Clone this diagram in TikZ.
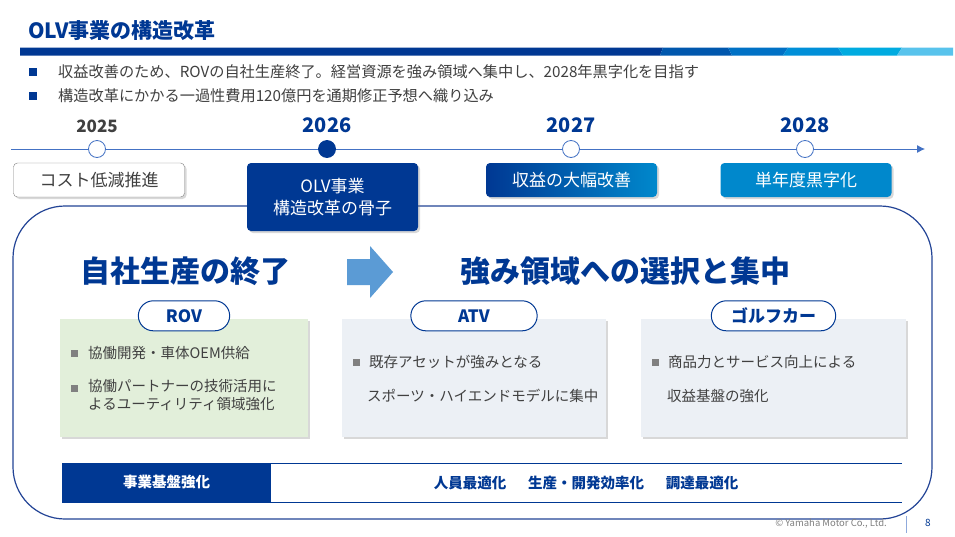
\documentclass[tikz,border=0pt]{standalone}
\usepackage{fontspec}
\setmainfont{Noto Sans CJK JP}
\usepackage{xcolor}
\usepackage{tikz}
\usetikzlibrary{arrows.meta,positioning,shapes.misc,shadows}
\definecolor{olvnavy}{RGB}{0,56,147}
\definecolor{tlblue}{RGB}{68,114,196}
\definecolor{framecol}{RGB}{35,68,150}
\definecolor{skyblue}{RGB}{0,136,204}
\definecolor{txtgray}{RGB}{64,64,64}
\definecolor{bulgray}{RGB}{128,128,128}
\definecolor{rovfill}{RGB}{226,239,218}
\definecolor{panfill}{RGB}{236,240,245}
\definecolor{arrowblue}{RGB}{91,155,213}
\definecolor{barA}{RGB}{0,87,173}
\definecolor{barB}{RGB}{0,113,197}
\definecolor{barC}{RGB}{0,143,216}
\definecolor{barD}{RGB}{0,171,224}
\definecolor{barE}{RGB}{88,195,236}
\newcommand{\fs}[2][18]{\fontsize{#2}{#1}\selectfont}

\begin{document}
\begin{tikzpicture}[x=1pt, y=-1pt, >=Latex,
  yearlbl/.style={font=\fs{20}\bfseries, text=olvnavy, inner sep=0pt},
  dot/.style={circle, draw=tlblue, fill=white, line width=0.8pt, minimum size=17pt, inner sep=0pt},
  phase/.style={rounded corners=4pt, minimum width=171pt, minimum height=34pt, font=\fs{17},
                text=white, align=center,
                drop shadow={shadow xshift=2pt, shadow yshift=-2pt, opacity=.3}},
  panel/.style={minimum width=#1, minimum height=118pt, inner sep=0pt,
                drop shadow={shadow xshift=2pt, shadow yshift=-2pt, opacity=.3}},
  pill/.style={rounded rectangle, draw=olvnavy, line width=1pt, fill=white, minimum width=#1,
               minimum height=30pt, font=\fs{17}\bfseries, text=olvnavy},
  ptxt/.style={anchor=west, font=\fs{14.5}, text=txtgray, inner sep=0pt, align=left},
  sq/.style={fill=bulgray, minimum size=7pt, inner sep=0pt},
  headline/.style={font={\fs[36]{30}\bfseries}, text=olvnavy}]
\useasboundingbox (0,0) rectangle (955,536);
\fill[white] (0,0) rectangle (955,536);
% title and header bar
\node[anchor=west, font=\fs{21}\bfseries, text=olvnavy, inner sep=0pt] (title) at (28,31) {OLV事業の構造改革};
\fill[olvnavy] (20,47.5) -- (663,47.5) -- (660,55.5) -- (20,55.5) -- cycle;
\foreach \a/\b/\c/\d/\col in {663/728/732/660/barA, 728/788/783/732/barB, 788/838/843/783/barC,
                              838/902/897/843/barD, 902/953/953/897/barE}
  \fill[\col] (\a,47.5) -- (\b,47.5) -- (\c,55.5) -- (\d,55.5) -- cycle;
\node[fill=olvnavy, minimum width=8pt, minimum height=8pt, inner sep=0pt] (b1) at (33,72) {};
\node[fill=olvnavy, minimum width=8pt, minimum height=8pt, inner sep=0pt] (b2) at (33,96) {};
\node[ptxt, font=\fs{15.2}] (t1) at (58,72) {収益改善のため、ROVの自社生産終了。経営資源を強み領域へ集中し、2028年黒字化を目指す};
\node[ptxt, font=\fs{15.2}] (t2) at (58,96) {構造改革にかかる一過性費用120億円を通期修正予想へ織り込み};
% timeline
\coordinate (tlstart) at (11,149);
\coordinate (tlend) at (925,149);
\draw[tlblue, line width=0.8pt, -{Latex[length=8pt,width=8pt]}] (tlstart) -- (tlend);
\node[dot] (c25) at (97,149) {};
\node[dot, fill=olvnavy, draw=olvnavy] (c26) at (327,149) {};
\node[dot] (c27) at (571,149) {};
\node[dot] (c28) at (805,149) {};
\node[yearlbl, font=\fs{17}\bfseries, text=txtgray, above=7pt of c25] (y25) {2025};
\node[yearlbl, above=7pt of c26] (y26) {2026};
\node[yearlbl, above=7pt of c27] (y27) {2027};
\node[yearlbl, above=7pt of c28] (y28) {2028};
% main frame
\node[draw=framecol, line width=1.2pt, rounded corners=52pt, minimum width=919pt, minimum height=313pt,
      inner sep=0pt] (frame) at (472.5,362.5) {};
% phase boxes
\node[phase, fill=white, draw=bulgray, text=txtgray] (cost) at (99,180) {コスト低減推進};
\node[phase, fill=olvnavy, minimum height=68pt, font={\fs[22]{17}}] (core) at (332.5,197) {OLV事業\\構造改革の骨子};
\node[phase, left color=olvnavy, right color=skyblue] (profit) at (571.5,180) {収益の大幅改善};
\node[phase, fill=skyblue] (black) at (806,180) {単年度黒字化};
% headings and arrow
\node[headline] (endprod) at (185,271) {自社生産の終了};
\node[headline] (focus) at (625,271) {強み領域への選択と集中};
\fill[arrowblue] (347,259) -- (370,259) -- (370,246) -- (393,272) -- (370,298) -- (370,285) -- (347,285) -- cycle;
% panels
\node[panel=248pt, fill=rovfill] (rovpan) at (184,378) {};
\node[panel=264pt, fill=panfill] (atvpan) at (474,378) {};
\node[panel=265pt, fill=panfill] (golfpan) at (773.5,378) {};
\node[pill=98pt] (rov) at ([yshift=3pt]rovpan.north) {ROV};
\node[pill=133pt] (atv) at ([yshift=3pt]atvpan.north) {ATV};
\node[pill=131pt] (golf) at ([yshift=3pt]golfpan.north) {ゴルフカー};
\node[sq] (rs1) at (74,353) {};
\node[ptxt] (r1) at (88,353) {協働開発・車体OEM供給};
\node[sq] (rs2) at (74,388) {};
\node[ptxt, anchor=north west] (r2) at (88,379) {協働パートナーの技術活用に\\よるユーティリティ領域強化};
\node[sq] (as1) at (356,362) {};
\node[ptxt] (a1) at (369,362) {既存アセットが強みとなる};
\node[ptxt] (a2) at (367,396) {スポーツ・ハイエンドモデルに集中};
\node[sq] (gs1) at (655,362) {};
\node[ptxt] (g1) at (668,362) {商品力とサービス向上による};
\node[ptxt] (g2) at (667,396) {収益基盤の強化};
% base band
\coordinate (bandtl) at (62,463);
\coordinate (bandtr) at (902,463);
\coordinate (bandbl) at (62,502);
\coordinate (bandbr) at (902,502);
\node[fill=olvnavy, minimum width=209pt, minimum height=39pt, inner sep=0pt, font=\fs{14.5}\bfseries,
      text=white] (base) at (166.5,482.5) {事業基盤強化};
\draw[olvnavy, line width=1pt] (bandtl) -- (bandtr);
\draw[olvnavy, line width=1pt] (bandbl) -- (bandbr);
\node[font=\fs{14.5}\bfseries, text=olvnavy] (measures) at (586,483) {人員最適化\hspace{1.5em}生産・開発効率化\hspace{1.5em}調達最適化};
% footer
\node[anchor=east, font=\fs{9.5}, text=bulgray, inner sep=0pt] (copy) at (887,524) {© Yamaha Motor Co., Ltd.};
\coordinate (sept) at (906,516);
\coordinate (sepb) at (906,533);
\draw[tlblue!60, line width=0.8pt] (sept) -- (sepb);
\node[font=\fs{10}, text=olvnavy, inner sep=0pt] (page) at (928,523) {8};
\end{tikzpicture}
\end{document}
